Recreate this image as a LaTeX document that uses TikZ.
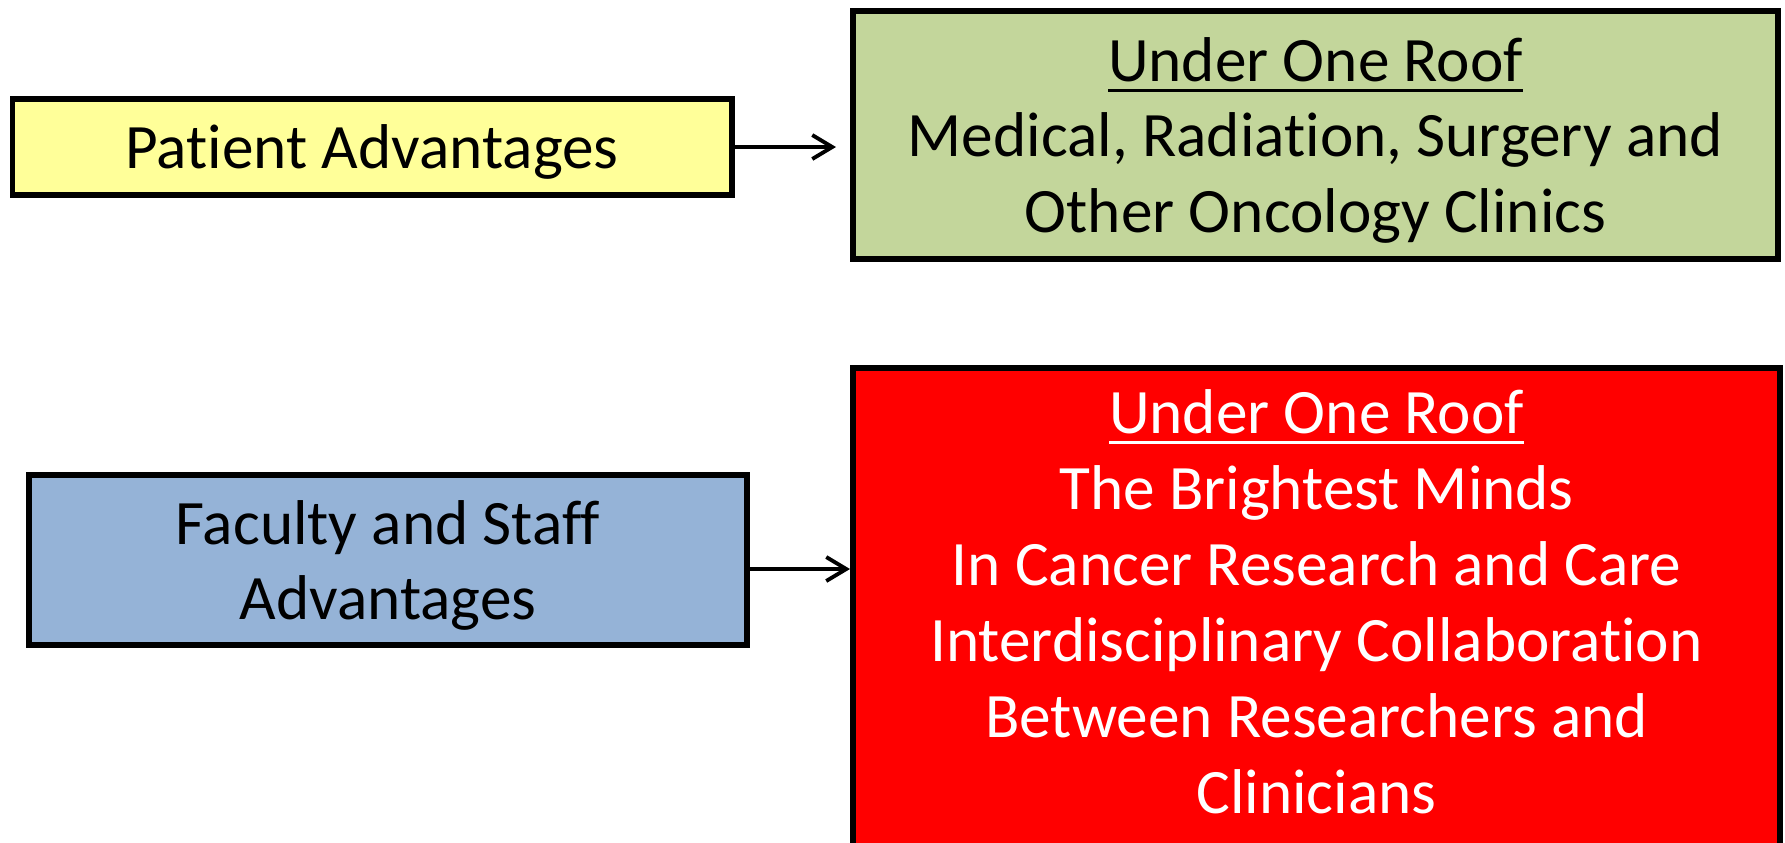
\documentclass[tikz,border=0pt]{standalone}
\usepackage{fontspec}
\setmainfont[Ligatures={NoCommon,NoRare}]{Carlito}
\usetikzlibrary{positioning,arrows.meta}
\definecolor{patientfill}{HTML}{FFFF99}
\definecolor{clinicfill}{HTML}{C3D69B}
\definecolor{stafffill}{HTML}{95B3D7}
\definecolor{mindsfill}{HTML}{FF0000}
\newcommand{\roofline}[1]{\setbox0\hbox{#1}\rlap{\rule[-3pt]{\wd0}{0.85pt}}\box0}
\tikzset{
	box/.style={draw, line width=1.7pt, align=center, inner sep=0pt, font=\fontsize{18}{21.6}\selectfont, text depth=4pt},
	link/.style={-{Straight Barb[length=2mm,width=2.4mm]}, line width=1.1pt},
}

\begin{document}
\begin{tikzpicture}
	\path[use as bounding box, clip] (0,0) rectangle (17.85,-8.42);
	\node[box, fill=patientfill, minimum width=7.19cm, minimum height=0.965cm, text height=16.5pt] (patient) at (3.72,-1.47) {Patient Advantages};
	\node[box, fill=clinicfill, minimum width=9.25cm, minimum height=2.48cm, text height=59.7pt, anchor=west] (clinics) at (8.50,-1.35) {\roofline{Under One Roof}\\Medical, Radiation, Surgery and\\Other Oncology Clinics};
	\node[box, fill=stafffill, minimum width=7.18cm, minimum height=1.70cm, text height=38.1pt] (staff) at (3.88,-5.60) {Faculty and Staff\\Advantages};
	\node[box, fill=mindsfill, minimum width=9.27cm, minimum height=5.4cm, anchor=north west] (minds) at (8.50,-3.65) {};
	\node[box, draw=none, text=white, text height=124.5pt, below=0.075cm of minds.north] (mindstext) {\roofline{Under One Roof}\\The Brightest Minds\\In Cancer Research and Care\\Interdisciplinary Collaboration\\Between Researchers and\\Clinicians};
	%
	\draw[link] (patient.east) -- ([xshift=-0.14cm]patient.east -| clinics.west);
	\draw[link] ([yshift=-0.09cm]staff.east) -- ([yshift=-0.09cm]staff.east -| minds.west);
\end{tikzpicture}
\end{document}
